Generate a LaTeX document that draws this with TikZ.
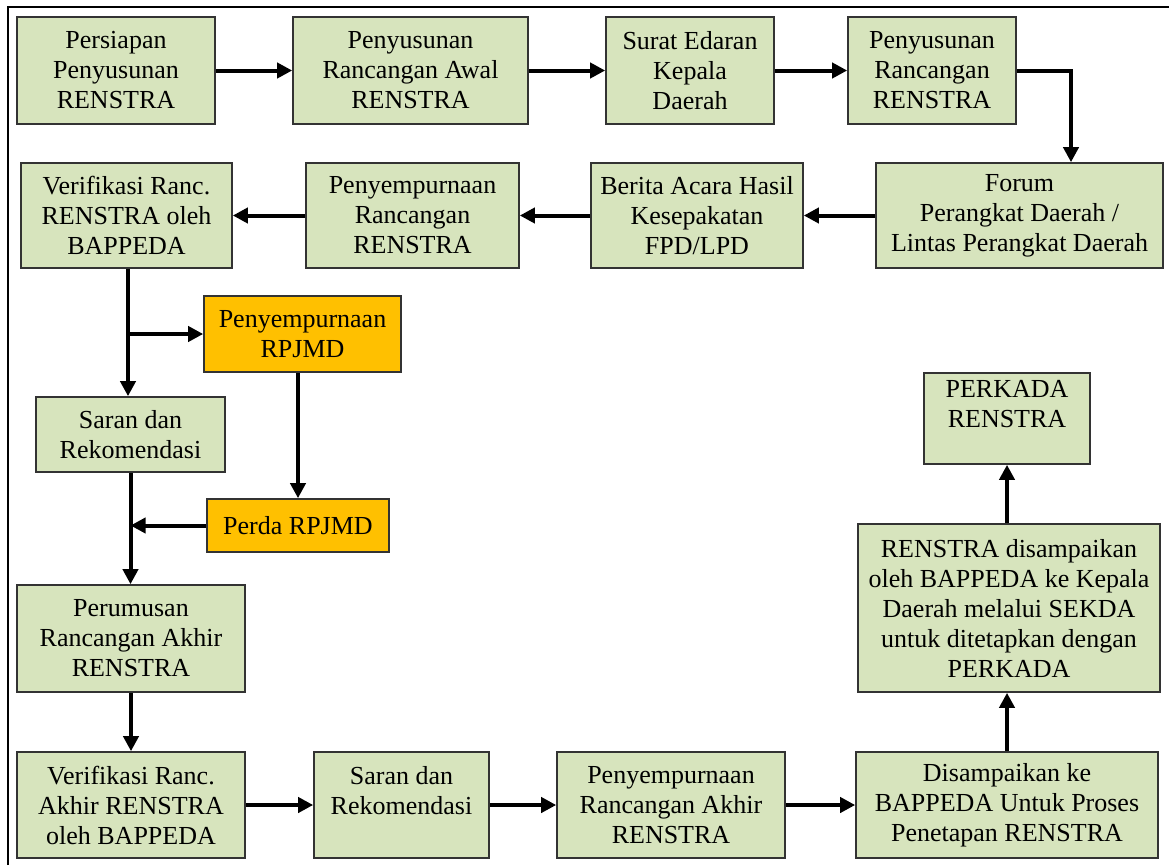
\documentclass[tikz,border=0pt]{standalone}
\usepackage{fontspec}
\setmainfont{Liberation Serif}
\usetikzlibrary{arrows.meta}
\definecolor{boxgreen}{HTML}{D7E4BD}
\definecolor{boxorange}{HTML}{FFC000}

\begin{document}
\begin{tikzpicture}[x=1pt, y=-1pt,
	box/.style={draw=black!80, line width=1.6pt, fill=boxgreen, align=center, inner sep=0pt, font=\fontsize{26}{30}\selectfont},
	obox/.style={box, fill=boxorange},
	arr/.style={line width=4pt, -{Triangle[length=15pt,width=15pt]}},
	plain/.style={line width=4pt}]
	\useasboundingbox (0,0) rectangle (1169,865);

	% Outer frame
	\draw[line width=2pt] (8,865) -- (8,7) -- (1169,7);

	% Row 1
	\node (persiapan) at (116,70.5) [box, minimum width=198pt, minimum height=107pt] {Persiapan\\Penyusunan\\RENSTRA};
	\node (awal) at (410.5,70.5) [box, minimum width=235pt, minimum height=107pt] {Penyusunan\\Rancangan Awal\\RENSTRA};
	\node (surat) at (690,70.5) [box, minimum width=168pt, minimum height=107pt] {Surat Edaran\\Kepala\\Daerah};
	\node (rancangan) at (932,70.5) [box, minimum width=168pt, minimum height=107pt] {Penyusunan\\Rancangan\\RENSTRA};

	% Row 2
	\node (forum) at (1019.5,215.5) [box, minimum width=287pt, minimum height=105pt] {Forum\\Perangkat Daerah /\\Lintas Perangkat Daerah};
	\node (berita) at (697,215.5) [box, minimum width=212pt, minimum height=105pt] {Berita Acara Hasil\\Kesepakatan\\FPD/LPD};
	\node (penyempurnaan) at (412.5,215.5) [box, minimum width=213pt, minimum height=105pt] {Penyempurnaan\\Rancangan\\RENSTRA};
	\node (verifikasi) at (126.5,215.5) [box, minimum width=211pt, minimum height=105pt] {Verifikasi Ranc.\\RENSTRA oleh\\BAPPEDA};

	% RPJMD branch
	\node (rpjmd) at (302.5,334) [obox, minimum width=197pt, minimum height=76pt] {Penyempurnaan\\RPJMD};
	\node (saran) at (130.5,434.5) [box, minimum width=189pt, minimum height=75pt] {Saran dan\\Rekomendasi};
	\node (perda) at (298,525.5) [obox, minimum width=182pt, minimum height=53pt] {Perda RPJMD};
	\node (perumusan) at (131,638.5) [box, minimum width=228pt, minimum height=107pt] {Perumusan\\Rancangan Akhir\\RENSTRA};

	% Bottom row
	\node (verakhir) at (131,805) [box, minimum width=228pt, minimum height=106pt] {Verifikasi Ranc.\\Akhir RENSTRA\\oleh BAPPEDA};
	\node (saranakhir) at (401.5,805) [box, minimum width=175pt, minimum height=106pt] {Saran dan\\Rekomendasi\\\mbox{}};
	\node (penyakhir) at (671,805) [box, minimum width=228pt, minimum height=106pt] {Penyempurnaan\\Rancangan Akhir\\RENSTRA};
	\node (disampaikan) at (1007,805) [box, minimum width=302pt, minimum height=106pt] {Disampaikan ke\\BAPPEDA Untuk Proses\\Penetapan RENSTRA};

	% Right column
	\node (kesekda) at (1009,608) [box, minimum width=302pt, minimum height=168pt] {RENSTRA disampaikan\\oleh BAPPEDA ke Kepala\\Daerah melalui SEKDA\\untuk ditetapkan dengan\\PERKADA};
	\node (perkada) at (1007,418.5) [box, minimum width=166pt, minimum height=91pt] {PERKADA\\RENSTRA\\\mbox{}};

	% Arrows row 1
	\draw[arr] (persiapan) -- (awal);
	\draw[arr] (awal) -- (surat);
	\draw[arr] (surat) -- (rancangan);
	\coordinate (bend) at (1071,70.5);
	\draw[arr] (rancangan.east) -- (bend) -- (bend |- forum.north);

	% Arrows row 2
	\draw[arr] (forum) -- (berita);
	\draw[arr] (berita) -- (penyempurnaan);
	\draw[arr] (penyempurnaan) -- (verifikasi);

	% Left column
	\coordinate (down) at (128,268);
	\draw[arr] (verifikasi.south -| down) -- (saran.north -| down);
	\draw[arr] (rpjmd.west -| down) -- (rpjmd.west);
	\draw[arr] (rpjmd.south -| perda.north) -- (perda.north);
	\draw[arr] (saran.south) -- (perumusan.north -| saran.south);
	\draw[arr] (perda.west) -- (perda.west -| saran.south);
	\draw[arr] (perumusan) -- (verakhir);

	% Arrows bottom row
	\draw[arr] (verakhir) -- (saranakhir);
	\draw[arr] (saranakhir) -- (penyakhir);
	\draw[arr] (penyakhir) -- (disampaikan);
	\draw[arr] (disampaikan.north) -- (kesekda.south -| disampaikan.north);
	\draw[arr] (kesekda.north -| perkada.south) -- (perkada.south);

\end{tikzpicture}
\end{document}
